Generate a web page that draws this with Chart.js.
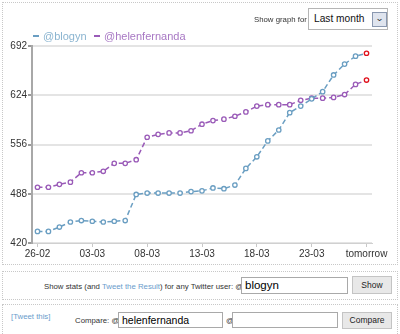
<!DOCTYPE html>
<html><head><meta charset="utf-8">
<script src="https://cdn.jsdelivr.net/npm/chart.js@4"></script>
<style>
html,body{margin:0;padding:0;background:#fff;width:400px;height:334px;overflow:hidden;font-family:"Liberation Sans",Arial,sans-serif;}
.box{position:absolute;border:1px dotted #c8c8c8;box-sizing:border-box;}
#wrap{position:absolute;left:0;top:0;width:400px;height:262px;}
.t{position:absolute;white-space:nowrap;}
.inp{position:absolute;border:1px solid #a9a9a9;background:#fff;box-sizing:border-box;font-size:10.5px;color:#000;padding-left:3px;}
.btn{position:absolute;border:1px solid #c4c4c4;background:#e8e8e8;box-sizing:border-box;font-size:8.5px;color:#222;text-align:center;}
.dash{display:inline-block;width:6px;height:1.5px;vertical-align:middle;margin-right:4px;position:relative;top:-1px;}
</style></head>
<body>
<div class="box" style="left:2px;top:2px;width:396px;height:263px;"></div>
<div class="box" style="left:2px;top:271px;width:396px;height:29px;"></div>
<div class="box" style="left:2px;top:304px;width:396px;height:30px;border-bottom:none;"></div>

<div id="wrap"><canvas id="c" width="400" height="262"></canvas></div>

<div class="t" style="left:254px;top:15px;font-size:7.8px;color:#333;">Show graph for</div>
<div style="position:absolute;left:308px;top:8px;width:80px;height:22px;border:1px solid #b5b5b5;box-sizing:border-box;background:#fff;"></div>
<div class="t" style="left:314px;top:12.5px;font-size:10.2px;color:#111;">Last month</div>
<div style="position:absolute;left:372px;top:12px;width:15px;height:15px;border:1px solid #8a98b0;box-sizing:border-box;background:#dfe4ee;"></div>
<div class="t" style="left:375.5px;top:13px;font-size:9px;color:#333;transform:scaleX(1.2);">&#8964;</div>

<div class="t" style="left:33px;top:30px;font-size:11px;color:#8ab4d0;"><span class="dash" style="background:#6a9ec2"></span>@blogyn</div>
<div class="t" style="left:94px;top:30px;font-size:11px;color:#a878c4;"><span class="dash" style="background:#9a5bb8"></span>@helenfernanda</div>

<div class="t" style="left:44px;top:282px;font-size:7.8px;color:#333;">Show stats (and <span style="color:#6a9ccc">Tweet the Result</span>) for any Twitter user: @</div>
<div class="inp" style="left:241px;top:277px;width:107px;height:17px;line-height:15px;font-size:11.5px;">blogyn</div>
<div class="btn" style="left:352px;top:276px;width:40px;height:18px;line-height:16px;">Show</div>

<div class="t" style="left:11px;top:312px;font-size:7.8px;color:#6a9ccc;">[Tweet this]</div>
<div class="t" style="left:75px;top:316px;font-size:7.8px;color:#333;">Compare: @</div>
<div class="inp" style="left:118px;top:312px;width:105px;height:16px;line-height:14px;">helenfernanda</div>
<div class="t" style="left:226px;top:316px;font-size:7.8px;color:#333;">@</div>
<div class="inp" style="left:232px;top:312px;width:106px;height:16px;"></div>
<div class="btn" style="left:342px;top:312px;width:50px;height:17px;line-height:15px;">Compare</div>

<script>
const labels = ['26-02','27-02','28-02','01-03','02-03','03-03','04-03','05-03','06-03','07-03','08-03','09-03','10-03','11-03','12-03','13-03','14-03','15-03','16-03','17-03','18-03','19-03','20-03','21-03','22-03','23-03','24-03','25-03','26-03','27-03','tomorrow'];
const blogyn = [436,436,442,449,451,450,449,450,451,487,489,489,489,489,491,492,496,495,500,523,539,561,576,600,609,619,629,652,667,678,682];
const helenfernanda = [497,497,501,504,517,517,519,530,530,535,566,570,572,572,575,584,589,591,595,601,609,611,611,611,617,620,620,621,625,639,645];
const yTicks = [420,488,556,624,692];

const blue = '#6a9ec2', purple = '#9a5bb8', red = '#e0101c';
function ptColors(data, c){ return data.map((v,i)=> i===data.length-1 ? red : c); }

new Chart(document.getElementById('c'), {
  type:'line',
  data:{ labels, datasets:[
    {label:'@blogyn', data:blogyn, borderColor:blue, borderWidth:1.5, borderDash:[5,3],
     pointRadius:2.2, pointBorderWidth:1.3, pointBackgroundColor:'#fff', pointBorderColor:ptColors(blogyn,blue), tension:0},
    {label:'@helenfernanda', data:helenfernanda, borderColor:purple, borderWidth:1.5, borderDash:[5,3],
     pointRadius:2.2, pointBorderWidth:1.3, pointBackgroundColor:'#fff', pointBorderColor:ptColors(helenfernanda,purple), tension:0}
  ]},
  options:{
    responsive:false, animation:false,
    layout:{padding:{top:46, left:0, right:28, bottom:0}},
    plugins:{legend:{display:false}, tooltip:{enabled:false}},
    scales:{
      x:{ offset:true,
        grid:{drawOnChartArea:false, drawTicks:true, tickLength:4, color:'#c8c8c8'},
        border:{color:'#d0d0d0', width:1},
        ticks:{autoSkip:false, maxRotation:0, padding:1, color:'#333', font:{family:'Liberation Sans', size:10},
          callback:(v,i)=> i%5===0 ? labels[i] : null},
        afterFit:(s)=>{ s.height = 19; }
      },
      y:{ min:yTicks[0], max:yTicks[yTicks.length-1],
        afterBuildTicks:(s)=>{ s.ticks = yTicks.map(v=>({value:v})); },
        grid:{color:'#e4e4e4', lineWidth:2, tickLength:4, tickColor:'#999'},
        border:{color:'#a8a8a8', width:2},
        ticks:{padding:1, color:'#333', font:{family:'Liberation Sans', size:10}},
        afterFit:(s)=>{ s.width = 32; }
      }
    }
  }
});
</script>
</body></html>
